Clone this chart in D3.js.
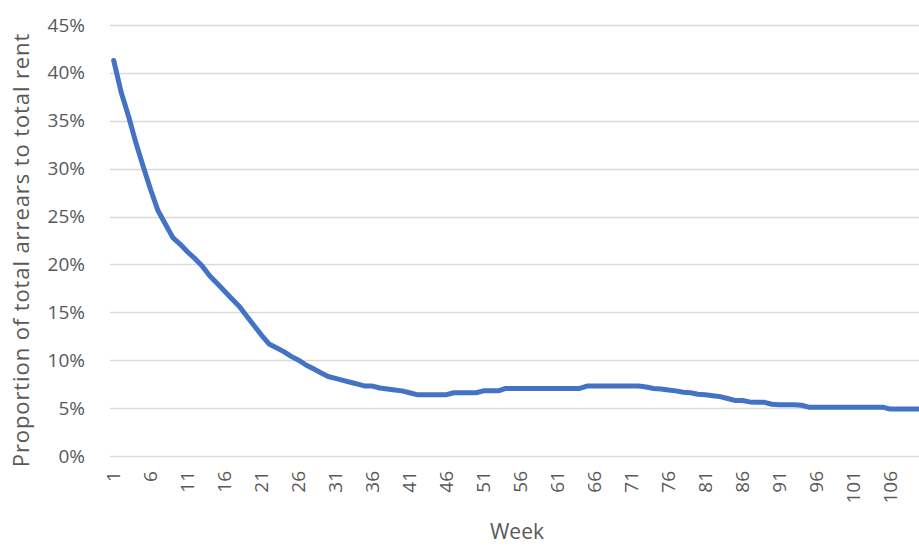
<!DOCTYPE html>
<html>
<head>
<meta charset="utf-8">
<script src="https://cdn.jsdelivr.net/npm/d3@7"></script>
<style>
  html, body { margin: 0; padding: 0; background: #fff; }
  svg text { font-family: "Open Sans", "Noto Sans", sans-serif; fill: #595959; }
</style>
</head>
<body>
<svg id="chart" width="919" height="546"></svg>
<script>
// ---- data ----
const weeks = d3.range(1, 111);
const arrearsPct = [
  41.3, 38.0, 35.5, 32.7, 30.2, 27.8, 25.6, 24.2, 22.8, 22.1,
  21.3, 20.6, 19.8, 18.8, 18.0, 17.2, 16.4, 15.6, 14.6, 13.6,
  12.6, 11.7, 11.3, 10.9, 10.4, 10.0, 9.5, 9.1, 8.7, 8.3,
  8.1, 7.9, 7.7, 7.5, 7.3, 7.3, 7.1, 7.0, 6.9, 6.8,
  6.6, 6.4, 6.4, 6.4, 6.4, 6.4, 6.6, 6.6, 6.6, 6.6,
  6.8, 6.8, 6.8, 7.05, 7.05, 7.05, 7.05, 7.05, 7.05, 7.05,
  7.05, 7.05, 7.05, 7.05, 7.3, 7.3, 7.3, 7.3, 7.3, 7.3,
  7.3, 7.3, 7.2, 7.05, 7.0, 6.9, 6.8, 6.65, 6.6, 6.45,
  6.4, 6.3, 6.2, 6.0, 5.8, 5.8, 5.65, 5.6, 5.6, 5.4,
  5.35, 5.35, 5.35, 5.3, 5.1, 5.1, 5.1, 5.1, 5.1, 5.1,
  5.1, 5.1, 5.1, 5.1, 5.1, 4.9, 4.9, 4.9, 4.9, 4.9
];
const yTicks = [0, 5, 10, 15, 20, 25, 30, 35, 40, 45];
const xTickWeeks = weeks.filter(w => (w - 1) % 5 === 0);
const xTitle = "Week";
const yTitle = "Proportion of total arrears to total rent";

// ---- layout ----
const svg = d3.select("#chart");
const plot = { left: 110, right: 923.5, top: 25, bottom: 456 };

const x = d3.scaleBand().domain(weeks).range([plot.left, plot.right]).padding(0);
const xc = w => x(w) + x.bandwidth() / 2;
const y = d3.scaleLinear().domain([0, 45]).range([plot.bottom, plot.top]);

// gridlines
svg.append("g")
  .selectAll("line")
  .data(yTicks)
  .join("line")
  .attr("x1", plot.left).attr("x2", plot.right)
  .attr("y1", d => Math.round(y(d)) + 0.5).attr("y2", d => Math.round(y(d)) + 0.5)
  .attr("stroke", "#d9d9d9").attr("stroke-width", 1.3);

// y axis labels
const yAxis = d3.axisLeft(y).tickValues(yTicks).tickFormat(d => d + "%").tickSize(0).tickPadding(0);
const gy = svg.append("g").attr("transform", `translate(85,0)`).call(yAxis);
gy.select(".domain").remove();
gy.selectAll("text").attr("font-size", 19).attr("fill", "#595959")
  .style("font-family", '"Open Sans", sans-serif');

// x axis labels
const xAxis = d3.axisBottom(x).tickValues(xTickWeeks).tickSize(0).tickPadding(0);
const gx = svg.append("g").attr("transform", `translate(0,${plot.bottom})`).call(xAxis);
gx.select(".domain").remove();
gx.selectAll("text")
  .attr("font-size", 19).attr("fill", "#595959")
  .style("font-family", '"Open Sans", sans-serif')
  .attr("text-anchor", "end")
  .attr("transform", "rotate(-90)")
  .attr("x", -15).attr("y", 0).attr("dy", "0.35em");

// line
const line = d3.line().x((d, i) => xc(weeks[i])).y(d => y(d));
svg.append("path")
  .datum(arrearsPct)
  .attr("d", line)
  .attr("fill", "none")
  .attr("stroke", "#4472C4")
  .attr("stroke-width", 5)
  .attr("stroke-linejoin", "round")
  .attr("stroke-linecap", "round");

// titles
svg.append("text")
  .attr("x", 517).attr("y", 539)
  .attr("text-anchor", "middle")
  .attr("font-size", 21)
  .text(xTitle);

svg.append("text")
  .attr("transform", "translate(29,250) rotate(-90)")
  .attr("text-anchor", "middle")
  .attr("font-size", 22)
  .attr("letter-spacing", 0.9)
  .text(yTitle);
</script>
</body>
</html>
